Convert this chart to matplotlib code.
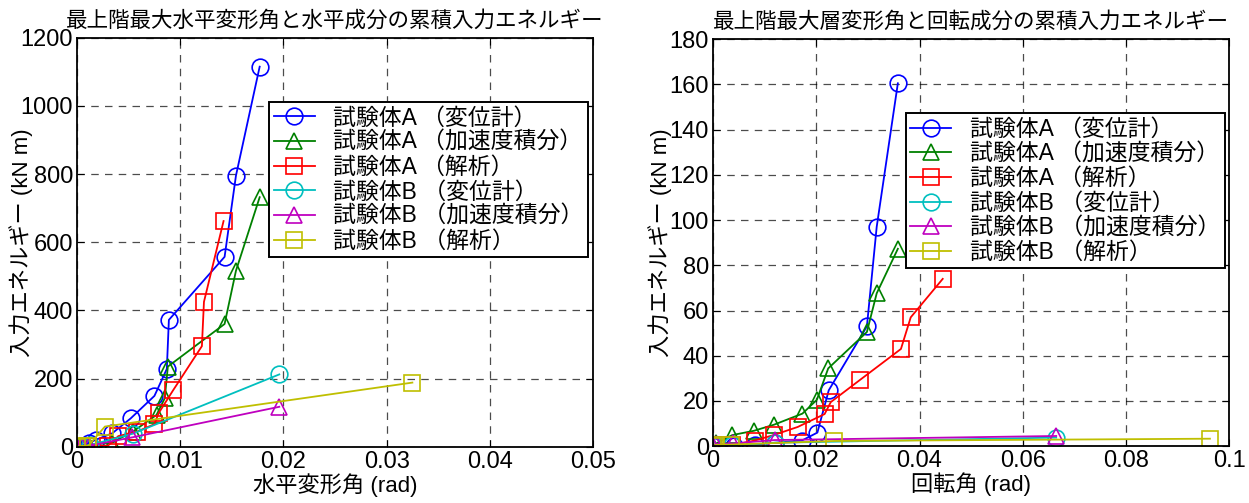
import matplotlib.pyplot as plt

plt.rcParams['font.family'] = ['Liberation Sans', 'Noto Sans CJK JP', 'DejaVu Sans']

labels = ['試験体A （変位計）', '試験体A （加速度積分）', '試験体A （解析）',
          '試験体B （変位計）', '試験体B （加速度積分）', '試験体B （解析）']
colors = ['#0000ff', '#008000', '#ff0000', '#00bfbf', '#bf00bf', '#bfbf00']
markers = ['o', '^', 's', 'o', '^', 's']

# horizontal drift angle vs. cumulative input energy (horizontal component)
h_ax_x = [0, 0.0005, 0.0012, 0.0018, 0.0034, 0.0052, 0.0075, 0.0087, 0.0089, 0.0143, 0.0154, 0.0177]
h_ax_y = [0, 3, 11, 20, 39, 83, 149, 228, 372, 557, 795, 1115]
h_aa_x = [0, 0.0005, 0.0012, 0.0034, 0.0054, 0.0077, 0.0085, 0.0088, 0.0143, 0.0154, 0.0177]
h_aa_y = [0, 2, 5, 12, 44, 93, 142, 235, 360, 516, 732]
h_an_x = [0, 0.0011, 0.0030, 0.0040, 0.0058, 0.0075, 0.0079, 0.0093, 0.0121, 0.0123, 0.0142]
h_an_y = [0, 2, 3, 31, 44, 66, 98, 165, 295, 425, 662]
h_bx_x = [0, 0.0005, 0.0013, 0.0054, 0.0196]
h_bx_y = [0, 2, 5, 38, 212]
h_ba_x = [0, 0.0005, 0.0012, 0.0053, 0.0196]
h_ba_y = [0, 1, 3, 27, 117]
h_bn_x = [0, 0.0005, 0.0011, 0.0027, 0.0325]
h_bn_y = [0, 2, 3, 59, 188]

# rotation angle vs. cumulative input energy (rotational component)
r_ax_x = [0, 0.0006, 0.0040, 0.0082, 0.0119, 0.0172, 0.0202, 0.0224, 0.0298, 0.0317, 0.0358]
r_ax_y = [0, 0.3, 0.2, 0.7, 1.5, 2.5, 6.0, 24.7, 53, 97, 160.5]
r_aa_x = [0, 0.0006, 0.0037, 0.0079, 0.0118, 0.0173, 0.0201, 0.0223, 0.0298, 0.0317, 0.0358]
r_aa_y = [0, 1.2, 4.9, 6.8, 9.5, 14.4, 20.5, 34.4, 50.5, 67.6, 87.3]
r_an_x = [0, 0.0006, 0.0037, 0.0081, 0.0117, 0.0164, 0.0216, 0.0228, 0.0284, 0.0364, 0.0383, 0.0445]
r_an_y = [0, 0.3, 0.5, 2.5, 4.9, 8.5, 14.2, 19.5, 29.2, 43, 57, 74]
r_bx_x = [0, 0.0006, 0.0037, 0.0119, 0.0665]
r_bx_y = [0, 0.3, 0.3, 1.5, 3.8]
r_ba_x = [0, 0.0006, 0.0039, 0.0119, 0.0665]
r_ba_y = [0, 1.0, 1.2, 2.7, 4.5]
r_bn_x = [0, 0.0006, 0.0034, 0.0235, 0.0963]
r_bn_y = [0, 0.6, 0.7, 2.3, 3.3]

h_xticks = [0, 0.01, 0.02, 0.03, 0.04, 0.05]
h_xticklabels = ['0', '0.01', '0.02', '0.03', '0.04', '0.05']
h_yticks = [0, 200, 400, 600, 800, 1000, 1200]
r_xticks = [0, 0.02, 0.04, 0.06, 0.08, 0.1]
r_xticklabels = ['0', '0.02', '0.04', '0.06', '0.08', '0.1']
r_yticks = [0, 20, 40, 60, 80, 100, 120, 140, 160, 180]

fig = plt.figure(figsize=(12.49, 5.03), dpi=100)
ax1 = fig.add_axes([0.0617, 0.112, 0.413, 0.813])
ax2 = fig.add_axes([0.571, 0.113, 0.413, 0.809])


def draw(ax, series, xticks, xticklabels, yticks, title, xlabel, legend_box, ylab_x):
    for (xs, ys), lab, c, m in zip(series, labels, colors, markers):
        ax.plot(xs, ys, color=c, marker=m, markersize=12, markerfacecolor='none',
                markeredgecolor=c, markeredgewidth=1.2, linewidth=1.3, label=lab)
    ax.set_xlim(xticks[0], xticks[-1])
    ax.set_ylim(yticks[0], yticks[-1])
    ax.set_xticks(xticks)
    ax.set_xticklabels(xticklabels)
    ax.set_yticks(yticks)
    ax.tick_params(direction='in', top=True, right=True, labelsize=17, length=5,
                   pad=3)
    ax.grid(True, color='black', linestyle=(0, (6, 5)), linewidth=0.9, alpha=0.7)
    for s in ax.spines.values():
        s.set_linewidth(1.3)
    ax.set_title(title, fontsize=15.5, pad=8)
    ax.set_xlabel(xlabel, fontsize=16, labelpad=0)
    ax.set_ylabel('入力エネルギー (kN m)', fontsize=16)
    ax.yaxis.set_label_coords(ylab_x, 0.5)
    leg = ax.legend(loc='upper left', bbox_to_anchor=legend_box, fontsize=16.5,
                    handlelength=1.8, borderpad=0.2, labelspacing=0.07,
                    handletextpad=0.8, borderaxespad=0, fancybox=False,
                    framealpha=1, edgecolor='black')
    leg.get_frame().set_linewidth(1.4)


draw(ax1,
     [(h_ax_x, h_ax_y), (h_aa_x, h_aa_y), (h_an_x, h_an_y),
      (h_bx_x, h_bx_y), (h_ba_x, h_ba_y), (h_bn_x, h_bn_y)],
     h_xticks, h_xticklabels, h_yticks,
     '最上階最大水平変形角と水平成分の累積入力エネルギー', '水平変形角 (rad)',
     (0.372, 0.843), -0.085)
draw(ax2,
     [(r_ax_x, r_ax_y), (r_aa_x, r_aa_y), (r_an_x, r_an_y),
      (r_bx_x, r_bx_y), (r_ba_x, r_ba_y), (r_bn_x, r_bn_y)],
     r_xticks, r_xticklabels, r_yticks,
     '最上階最大層変形角と回転成分の累積入力エネルギー', '回転角 (rad)',
     (0.373, 0.818), -0.079)

fig.savefig('out.png', dpi=100)
